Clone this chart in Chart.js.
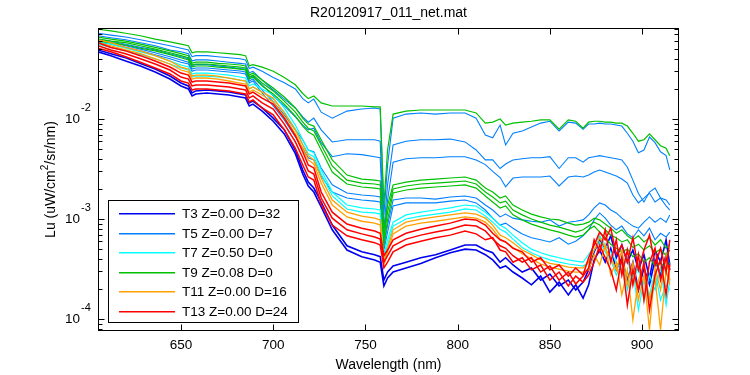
<!DOCTYPE html>
<html>
<head>
<meta charset="utf-8">
<title>R20120917_011_net.mat</title>
<script src="https://cdn.jsdelivr.net/npm/chart.js@4.4.0/dist/chart.umd.min.js"></script>
<style>
    html, body { margin: 0; padding: 0; background: #fff; }
    #spectraChart { display: block; }
</style>
</head>
<body>
<canvas id="spectraChart" width="750" height="375"></canvas>
<script>
// Wavelength grid (nm) shared by every spectrum
const wavelength = [605, 612, 620, 628, 636, 644, 650, 654, 656, 658, 664, 670, 676, 682, 685, 687, 689, 694, 700, 706,
    712, 716, 719, 722, 726, 732, 740, 748, 755, 758, 760, 762, 765, 772, 780, 788, 796, 804, 810, 815,
    819, 823, 826, 830, 835, 840, 845, 850, 855, 860, 864, 868, 871, 874, 877, 880, 883, 886, 889, 892,
    895, 898, 901, 904, 907, 910, 913, 915];

// T3 Z=0.00 D=32
const t3Lu1 = [4.9e-2, 4.5e-2, 4.1e-2, 3.6e-2, 3.16e-2, 2.69e-2, 2.29e-2, 2.14e-2, 1.82e-2, 1.91e-2,
    1.95e-2, 1.91e-2, 1.86e-2, 1.78e-2, 1.74e-2, 1.45e-2, 1.51e-2, 1.29e-2, 1.02e-2, 7.8e-3,
    4.9e-3, 3.09e-3, 2.34e-3, 2.04e-3, 1.48e-3, 8.7e-4, 5.4e-4, 4.7e-4, 4.4e-4, 4.2e-4,
    2.45e-4, 2.95e-4, 3.39e-4, 3.7e-4, 4.1e-4, 4.4e-4, 4.9e-4, 5.5e-4, 5.5e-4, 4.9e-4,
    4.6e-4, 3.7e-4, 4.1e-4, 3.47e-4, 2.95e-4, 3.24e-4, 2.45e-4, 2.82e-4, 2.14e-4, 2.45e-4,
    1.95e-4, 2.34e-4, 3.1e-4, 4.7e-4, 6.2e-4, 5.1e-4, 6.8e-4, 4.1e-4, 5.5e-4, 3.7e-4,
    4.9e-4, 3.1e-4, 4.4e-4, 2.57e-4, 4.9e-4, 3.7e-4, 6.2e-4, 3.47e-4];
const t3Lu2 = [4.7e-2, 4.3e-2, 3.8e-2, 3.39e-2, 2.95e-2, 2.51e-2, 2.14e-2, 2.0e-2, 1.7e-2, 1.78e-2,
    1.82e-2, 1.78e-2, 1.74e-2, 1.66e-2, 1.62e-2, 1.35e-2, 1.41e-2, 1.2e-2, 9.5e-3, 7.1e-3,
    4.5e-3, 2.82e-3, 2.14e-3, 1.86e-3, 1.32e-3, 7.8e-4, 4.9e-4, 4.2e-4, 3.9e-4, 3.7e-4,
    2.14e-4, 2.57e-4, 2.95e-4, 3.24e-4, 3.6e-4, 4.1e-4, 4.6e-4, 5.0e-4, 4.9e-4, 4.4e-4,
    3.9e-4, 3.24e-4, 3.39e-4, 2.95e-4, 2.57e-4, 2.2e-4, 2.69e-4, 1.86e-4, 2.34e-4, 1.74e-4,
    2.2e-4, 1.62e-4, 2.2e-4, 3.9e-4, 4.9e-4, 3.7e-4, 5.1e-4, 3.1e-4, 4.1e-4, 2.45e-4,
    3.7e-4, 1.95e-4, 3.24e-4, 2.2e-4, 3.9e-4, 2.75e-4, 4.4e-4, 3.1e-4];

// T5 Z=0.00 D=7
const t5Lu1 = [7.2e-2, 6.9e-2, 6.6e-2, 6.2e-2, 5.8e-2, 5.4e-2, 5.1e-2, 4.9e-2, 4.2e-2, 4.3e-2,
    4.3e-2, 4.2e-2, 4.1e-2, 4.0e-2, 3.9e-2, 3.2e-2, 3.3e-2, 3.0e-2, 2.6e-2, 2.3e-2,
    2.0e-2, 1.6e-2, 1.45e-2, 1.58e-2, 1.17e-2, 1.02e-2, 1.2e-2, 1.26e-2, 1.29e-2, 1.26e-2,
    1.1e-3, 3.5e-3, 1.02e-2, 1.12e-2, 1.15e-2, 1.12e-2, 1.15e-2, 1.15e-2, 1.02e-2, 6.9e-3,
    6.5e-3, 8.7e-3, 5.5e-3, 7.2e-3, 7.6e-3, 8.3e-3, 9.1e-3, 9.5e-3, 7.6e-3, 9.3e-3,
    9.1e-3, 7.9e-3, 8.9e-3, 8.9e-3, 9.1e-3, 8.9e-3, 8.9e-3, 8.7e-3, 8.5e-3, 7.2e-3,
    6.0e-3, 4.6e-3, 4.9e-3, 6.6e-3, 5.8e-3, 4.7e-3, 4.3e-3, 3.1e-3];
const t5Lu2 = [6.8e-2, 6.5e-2, 6.2e-2, 5.8e-2, 5.4e-2, 4.9e-2, 4.7e-2, 4.5e-2, 3.8e-2, 3.9e-2,
    3.9e-2, 3.8e-2, 3.7e-2, 3.6e-2, 3.55e-2, 2.9e-2, 3.0e-2, 2.45e-2, 1.95e-2, 1.58e-2,
    1.29e-2, 1.05e-2, 9.3e-3, 1.02e-2, 7.8e-3, 5.9e-3, 6.2e-3, 6.2e-3, 6.2e-3, 6.0e-3,
    7.8e-4, 2.2e-3, 5.5e-3, 6.0e-3, 6.2e-3, 6.2e-3, 6.3e-3, 5.9e-3, 4.9e-3, 3.9e-3,
    3.9e-3, 3.2e-3, 3.55e-3, 3.9e-3, 4.0e-3, 4.1e-3, 4.1e-3, 4.2e-3, 3.2e-3, 4.1e-3,
    4.1e-3, 3.7e-3, 4.1e-3, 4.2e-3, 4.3e-3, 4.2e-3, 4.1e-3, 4.0e-3, 3.9e-3, 3.3e-3,
    2.45e-3, 1.8e-3, 1.48e-3, 1.86e-3, 2.04e-3, 1.62e-3, 1.55e-3, 1.38e-3];
const t5Lu3 = [6.3e-2, 6.0e-2, 5.6e-2, 5.2e-2, 4.9e-2, 4.5e-2, 4.2e-2, 4.0e-2, 3.4e-2, 3.5e-2,
    3.5e-2, 3.4e-2, 3.3e-2, 3.2e-2, 3.16e-2, 2.6e-2, 2.7e-2, 2.2e-2, 1.7e-2, 1.35e-2,
    1.05e-2, 8.7e-3, 7.8e-3, 8.1e-3, 5.8e-3, 4.2e-3, 4.5e-3, 4.4e-3, 4.2e-3, 4.1e-3,
    6.2e-4, 1.55e-3, 3.7e-3, 4.0e-3, 4.1e-3, 4.1e-3, 4.2e-3, 4.2e-3, 3.9e-3, 3.5e-3,
    3.0e-3, 2.6e-3, 2.1e-3, 2.57e-3, 2.63e-3, 2.63e-3, 2.63e-3, 2.69e-3, 2.14e-3, 2.63e-3,
    2.69e-3, 2.63e-3, 2.75e-3, 2.95e-3, 3.09e-3, 2.95e-3, 2.82e-3, 2.69e-3, 2.51e-3, 2.29e-3,
    1.74e-3, 1.45e-3, 1.62e-3, 1.82e-3, 1.48e-3, 1.62e-3, 1.35e-3, 1.23e-3];
const t5Lu4 = [6.0e-2, 5.8e-2, 5.4e-2, 5.0e-2, 4.6e-2, 4.2e-2, 3.9e-2, 3.7e-2, 3.16e-2, 3.24e-2,
    3.24e-2, 3.16e-2, 3.09e-2, 3.02e-2, 2.95e-2, 2.4e-2, 2.51e-2, 1.95e-2, 1.48e-2, 1.1e-2,
    7.8e-3, 6.2e-3, 4.9e-3, 4.7e-3, 3.24e-3, 2.2e-3, 1.82e-3, 1.74e-3, 1.7e-3, 1.66e-3,
    5.5e-4, 8.7e-4, 1.55e-3, 1.62e-3, 1.62e-3, 1.58e-3, 1.66e-3, 1.7e-3, 1.62e-3, 1.38e-3,
    1.23e-3, 1.05e-3, 1.12e-3, 1.02e-3, 9.8e-4, 9.5e-4, 9.3e-4, 9.8e-4, 8.5e-4, 9.3e-4,
    9.5e-4, 9.8e-4, 1.1e-3, 1.29e-3, 1.45e-3, 1.38e-3, 1.23e-3, 1.15e-3, 1.02e-3, 9.3e-4,
    8.5e-4, 8.1e-4, 9.3e-4, 1.05e-3, 9.3e-4, 1.02e-3, 9.3e-4, 1.1e-3];
const t5Lu5 = [5.9e-2, 5.6e-2, 5.2e-2, 4.8e-2, 4.4e-2, 4.0e-2, 3.7e-2, 3.55e-2, 3.0e-2, 3.09e-2,
    3.09e-2, 3.02e-2, 2.95e-2, 2.88e-2, 2.82e-2, 2.29e-2, 2.4e-2, 1.82e-2, 1.35e-2, 9.8e-3,
    6.6e-3, 5.1e-3, 4.1e-3, 3.9e-3, 2.69e-3, 1.86e-3, 1.62e-3, 1.55e-3, 1.51e-3, 1.48e-3,
    4.9e-4, 7.4e-4, 1.35e-3, 1.45e-3, 1.45e-3, 1.45e-3, 1.51e-3, 1.55e-3, 1.45e-3, 1.23e-3,
    1.02e-3, 8.7e-4, 9.1e-4, 8.1e-4, 7.1e-4, 6.5e-4, 6.2e-4, 5.9e-4, 6.5e-4, 5.6e-4,
    6.0e-4, 6.8e-4, 7.8e-4, 9.8e-4, 1.15e-3, 1.02e-3, 8.7e-4, 7.8e-4, 8.5e-4, 7.1e-4,
    6.5e-4, 7.8e-4, 6.8e-4, 8.1e-4, 6.2e-4, 7.2e-4, 6.6e-4, 7.4e-4];

// T7 Z=0.50 D=0
const t7Lu1 = [6.0e-2, 5.6e-2, 5.1e-2, 4.7e-2, 4.3e-2, 3.8e-2, 3.47e-2, 3.31e-2, 2.82e-2, 2.88e-2,
    2.88e-2, 2.82e-2, 2.75e-2, 2.63e-2, 2.57e-2, 2.14e-2, 2.24e-2, 2.0e-2, 1.74e-2, 1.29e-2,
    8.7e-3, 6.2e-3, 4.9e-3, 4.6e-3, 3.09e-3, 1.86e-3, 1.38e-3, 1.29e-3, 1.26e-3, 1.23e-3,
    4.4e-4, 6.2e-4, 9.3e-4, 1.1e-3, 1.17e-3, 1.23e-3, 1.29e-3, 1.38e-3, 1.35e-3, 1.17e-3,
    1.02e-3, 8.7e-4, 8.1e-4, 6.9e-4, 5.8e-4, 5.0e-4, 4.6e-4, 4.3e-4, 4.1e-4, 3.9e-4,
    3.8e-4, 3.7e-4, 4.4e-4, 5.5e-4, 6.8e-4, 5.5e-4, 4.7e-4, 3.7e-4, 3.1e-4, 4.1e-4,
    2.2e-4, 3.5e-4, 1.55e-4, 2.75e-4, 1.95e-4, 3.24e-4, 1.38e-4, 2.45e-4];
const t7Lu2 = [5.6e-2, 5.2e-2, 4.8e-2, 4.4e-2, 4.0e-2, 3.55e-2, 3.24e-2, 3.09e-2, 2.63e-2, 2.69e-2,
    2.69e-2, 2.63e-2, 2.57e-2, 2.45e-2, 2.4e-2, 2.0e-2, 2.09e-2, 1.86e-2, 1.58e-2, 1.17e-2,
    7.9e-3, 5.6e-3, 4.5e-3, 4.2e-3, 2.82e-3, 1.7e-3, 1.26e-3, 1.17e-3, 1.15e-3, 1.12e-3,
    4.1e-4, 5.5e-4, 8.5e-4, 1.0e-3, 1.07e-3, 1.12e-3, 1.17e-3, 1.26e-3, 1.23e-3, 1.07e-3,
    9.3e-4, 7.9e-4, 7.4e-4, 6.3e-4, 5.2e-4, 4.6e-4, 4.2e-4, 3.9e-4, 3.7e-4, 3.55e-4,
    3.47e-4, 3.39e-4, 3.7e-4, 4.9e-4, 5.9e-4, 4.7e-4, 3.9e-4, 2.75e-4, 3.7e-4, 1.95e-4,
    3.1e-4, 1.23e-4, 2.45e-4, 1.74e-4, 2.95e-4, 1.55e-4, 2.2e-4, 1.95e-4];

// T9 Z=0.08 D=0
const t9Lu1 = [7.9e-2, 7.6e-2, 7.2e-2, 6.8e-2, 6.3e-2, 5.9e-2, 5.6e-2, 5.4e-2, 4.6e-2, 4.7e-2,
    4.7e-2, 4.6e-2, 4.5e-2, 4.4e-2, 4.3e-2, 3.4e-2, 3.5e-2, 3.3e-2, 3.0e-2, 2.6e-2,
    2.2e-2, 1.8e-2, 1.6e-2, 1.7e-2, 1.45e-2, 1.35e-2, 1.35e-2, 1.35e-2, 1.32e-2, 1.32e-2,
    1.38e-3, 4.9e-3, 1.12e-2, 1.2e-2, 1.23e-2, 1.23e-2, 1.23e-2, 1.23e-2, 1.15e-2, 9.1e-3,
    9.3e-3, 1.0e-2, 8.7e-3, 9.1e-3, 9.3e-3, 9.5e-3, 9.8e-3, 9.8e-3, 7.9e-3, 9.8e-3,
    9.5e-3, 8.1e-3, 9.3e-3, 9.5e-3, 9.5e-3, 9.3e-3, 9.3e-3, 9.1e-3, 9.1e-3, 8.5e-3,
    7.2e-3, 6.0e-3, 6.2e-3, 7.1e-3, 6.2e-3, 5.4e-3, 5.1e-3, 4.3e-3];
const t9Lu2 = [6.6e-2, 6.3e-2, 6.0e-2, 5.6e-2, 5.2e-2, 4.8e-2, 4.5e-2, 4.3e-2, 3.6e-2, 3.7e-2,
    3.7e-2, 3.6e-2, 3.55e-2, 3.47e-2, 3.39e-2, 2.75e-2, 2.88e-2, 2.45e-2, 2.04e-2, 1.66e-2,
    1.29e-2, 1.02e-2, 8.9e-3, 8.5e-3, 6.2e-3, 3.9e-3, 2.75e-3, 2.51e-3, 2.45e-3, 2.4e-3,
    7.8e-4, 1.38e-3, 2.19e-3, 2.34e-3, 2.45e-3, 2.51e-3, 2.57e-3, 2.63e-3, 2.45e-3, 2.04e-3,
    1.86e-3, 1.62e-3, 1.7e-3, 1.38e-3, 1.23e-3, 1.12e-3, 1.05e-3, 1.0e-3, 9.8e-4, 9.1e-4,
    8.7e-4, 8.9e-4, 9.3e-4, 1.02e-3, 9.8e-4, 8.9e-4, 8.1e-4, 7.2e-4, 7.8e-4, 6.8e-4,
    6.2e-4, 6.8e-4, 5.9e-4, 6.5e-4, 5.5e-4, 6.2e-4, 5.1e-4, 5.6e-4];
const t9Lu3 = [6.3e-2, 6.0e-2, 5.8e-2, 5.4e-2, 5.0e-2, 4.6e-2, 4.3e-2, 4.1e-2, 3.47e-2, 3.55e-2,
    3.55e-2, 3.47e-2, 3.39e-2, 3.31e-2, 3.24e-2, 2.63e-2, 2.75e-2, 2.29e-2, 1.91e-2, 1.51e-2,
    1.17e-2, 9.3e-3, 8.1e-3, 7.6e-3, 5.5e-3, 3.39e-3, 2.45e-3, 2.29e-3, 2.24e-3, 2.19e-3,
    6.5e-4, 1.17e-3, 2.0e-3, 2.14e-3, 2.24e-3, 2.29e-3, 2.34e-3, 2.4e-3, 2.24e-3, 1.86e-3,
    1.66e-3, 1.45e-3, 1.51e-3, 1.23e-3, 1.1e-3, 1.0e-3, 9.3e-4, 8.7e-4, 8.3e-4, 7.8e-4,
    7.4e-4, 7.8e-4, 8.5e-4, 9.3e-4, 8.7e-4, 7.8e-4, 6.9e-4, 6.5e-4, 5.9e-4, 6.2e-4,
    5.2e-4, 5.6e-4, 4.9e-4, 5.4e-4, 4.6e-4, 5.0e-4, 4.3e-4, 4.9e-4];
const t9Lu4 = [6.0e-2, 5.8e-2, 5.5e-2, 5.1e-2, 4.8e-2, 4.4e-2, 4.1e-2, 3.9e-2, 3.31e-2, 3.39e-2,
    3.39e-2, 3.31e-2, 3.24e-2, 3.16e-2, 3.09e-2, 2.51e-2, 2.63e-2, 2.14e-2, 1.78e-2, 1.41e-2,
    1.07e-2, 8.5e-3, 7.4e-3, 6.9e-3, 4.9e-3, 2.95e-3, 2.24e-3, 2.09e-3, 2.04e-3, 2.0e-3,
    5.5e-4, 9.8e-4, 1.82e-3, 1.95e-3, 2.04e-3, 2.09e-3, 2.14e-3, 2.19e-3, 2.04e-3, 1.7e-3,
    1.48e-3, 1.29e-3, 1.35e-3, 1.1e-3, 9.8e-4, 8.9e-4, 8.3e-4, 7.8e-4, 7.4e-4, 6.9e-4,
    6.6e-4, 6.9e-4, 7.8e-4, 8.5e-4, 7.4e-4, 6.5e-4, 5.6e-4, 5.1e-4, 4.7e-4, 5.0e-4,
    4.2e-4, 4.5e-4, 3.7e-4, 4.1e-4, 3.4e-4, 3.7e-4, 3.1e-4, 3.7e-4];

// T11 Z=0.00 D=16
const t11Lu1 = [6.2e-2, 5.8e-2, 5.2e-2, 4.8e-2, 4.3e-2, 3.8e-2, 3.31e-2, 3.16e-2, 2.69e-2, 2.75e-2,
    2.75e-2, 2.69e-2, 2.57e-2, 2.45e-2, 2.4e-2, 2.0e-2, 2.09e-2, 1.86e-2, 1.62e-2, 1.15e-2,
    7.8e-3, 5.5e-3, 4.3e-3, 3.9e-3, 2.57e-3, 1.55e-3, 1.17e-3, 1.07e-3, 1.02e-3, 9.8e-4,
    3.7e-4, 5.1e-4, 7.8e-4, 9.3e-4, 1.0e-3, 1.05e-3, 1.1e-3, 1.15e-3, 1.12e-3, 1.02e-3,
    8.7e-4, 6.9e-4, 6.5e-4, 5.8e-4, 4.9e-4, 4.4e-4, 3.9e-4, 3.6e-4, 3.47e-4, 3.3e-4,
    3.24e-4, 3.24e-4, 3.7e-4, 4.9e-4, 6.5e-4, 5.1e-4, 4.1e-4, 3.1e-4, 4.9e-4, 2.2e-4,
    3.7e-4, 1.55e-4, 2.75e-4, 7.8e-5, 3.24e-4, 1.95e-4, 4.4e-4, 2.45e-4];
const t11Lu2 = [5.8e-2, 5.4e-2, 4.9e-2, 4.5e-2, 4.0e-2, 3.55e-2, 3.09e-2, 2.95e-2, 2.51e-2, 2.57e-2,
    2.57e-2, 2.51e-2, 2.4e-2, 2.29e-2, 2.24e-2, 1.86e-2, 1.95e-2, 1.74e-2, 1.48e-2, 1.05e-2,
    7.1e-3, 5.0e-3, 3.9e-3, 3.55e-3, 2.29e-3, 1.38e-3, 1.05e-3, 9.5e-4, 9.1e-4, 8.7e-4,
    3.47e-4, 4.7e-4, 7.1e-4, 8.5e-4, 9.1e-4, 9.5e-4, 1.0e-3, 1.05e-3, 1.02e-3, 9.3e-4,
    7.9e-4, 6.3e-4, 5.9e-4, 5.2e-4, 4.5e-4, 4.0e-4, 3.55e-4, 3.3e-4, 3.16e-4, 3.02e-4,
    2.95e-4, 2.95e-4, 3.1e-4, 4.4e-4, 3.47e-4, 5.5e-4, 2.75e-4, 3.7e-4, 1.74e-4, 3.1e-4,
    9.8e-5, 2.45e-4, 3.47e-4, 1.55e-4, 2.57e-4, 7.8e-5, 3.1e-4, 2.2e-4];

// T13 Z=0.00 D=24
const t13Lu1 = [5.8e-2, 5.2e-2, 4.8e-2, 4.3e-2, 3.8e-2, 3.31e-2, 2.88e-2, 2.75e-2, 2.34e-2, 2.4e-2,
    2.4e-2, 2.34e-2, 2.29e-2, 2.19e-2, 2.14e-2, 1.78e-2, 1.86e-2, 1.62e-2, 1.41e-2, 1.02e-2,
    6.8e-3, 4.7e-3, 3.47e-3, 3.24e-3, 1.86e-3, 1.17e-3, 8.9e-4, 8.1e-4, 7.6e-4, 7.2e-4,
    4.3e-4, 4.9e-4, 6.2e-4, 7.2e-4, 7.9e-4, 8.5e-4, 9.1e-4, 1.0e-3, 9.8e-4, 8.7e-4,
    7.2e-4, 6.2e-4, 5.9e-4, 5.1e-4, 4.7e-4, 3.7e-4, 4.1e-4, 3.1e-4, 3.47e-4, 2.69e-4,
    3.24e-4, 2.75e-4, 4.1e-4, 5.5e-4, 7.4e-4, 6.2e-4, 8.1e-4, 4.4e-4, 5.5e-4, 3.7e-4,
    6.5e-4, 3.1e-4, 4.9e-4, 6.9e-4, 3.47e-4, 5.1e-4, 2.95e-4, 6.2e-4];
const t13Lu2 = [5.4e-2, 4.9e-2, 4.5e-2, 4.0e-2, 3.55e-2, 3.09e-2, 2.63e-2, 2.51e-2, 2.14e-2, 2.19e-2,
    2.19e-2, 2.14e-2, 2.09e-2, 2.0e-2, 1.95e-2, 1.62e-2, 1.7e-2, 1.45e-2, 1.26e-2, 8.9e-3,
    5.9e-3, 4.1e-3, 3.02e-3, 2.82e-3, 1.62e-3, 1.02e-3, 7.8e-4, 7.1e-4, 6.6e-4, 6.3e-4,
    3.7e-4, 4.3e-4, 5.4e-4, 6.3e-4, 6.9e-4, 7.4e-4, 7.9e-4, 8.7e-4, 8.5e-4, 7.6e-4,
    6.3e-4, 5.4e-4, 5.1e-4, 4.3e-4, 3.7e-4, 4.1e-4, 2.95e-4, 3.39e-4, 2.45e-4, 2.95e-4,
    2.24e-4, 2.69e-4, 3.24e-4, 6.2e-4, 4.7e-4, 7.8e-4, 3.7e-4, 6.2e-4, 2.75e-4, 4.9e-4,
    2.2e-4, 4.4e-4, 1.55e-4, 3.7e-4, 5.1e-4, 2.45e-4, 4.1e-4, 3.1e-4];
const t13Lu3 = [5.1e-2, 4.7e-2, 4.2e-2, 3.7e-2, 3.24e-2, 2.82e-2, 2.4e-2, 2.29e-2, 1.95e-2, 2.0e-2,
    2.0e-2, 1.95e-2, 1.91e-2, 1.82e-2, 1.78e-2, 1.48e-2, 1.55e-2, 1.29e-2, 1.1e-2, 7.8e-3,
    5.1e-3, 3.47e-3, 2.63e-3, 2.45e-3, 1.41e-3, 8.7e-4, 6.8e-4, 6.2e-4, 5.8e-4, 5.5e-4,
    3.24e-4, 3.7e-4, 4.7e-4, 5.5e-4, 6.0e-4, 6.5e-4, 6.9e-4, 7.6e-4, 7.1e-4, 6.2e-4,
    6.5e-4, 4.9e-4, 4.7e-4, 3.7e-4, 4.1e-4, 3.1e-4, 3.47e-4, 2.45e-4, 2.95e-4, 2.14e-4,
    2.69e-4, 2.34e-4, 2.75e-4, 3.7e-4, 5.5e-4, 4.1e-4, 3.1e-4, 1.95e-4, 4.1e-4, 1.38e-4,
    3.1e-4, 1.95e-4, 3.7e-4, 1.23e-4, 2.75e-4, 3.9e-4, 1.74e-4, 3.47e-4];

// Axis ticks and labels
const xTicks = [650, 700, 750, 800, 850, 900];
const yDecades = [1e-4, 1e-3, 1e-2];
const yDecadeExponents = ['-4', '-3', '-2'];
const legendLabels = ['T3 Z=0.00 D=32', 'T5 Z=0.00 D=7', 'T7 Z=0.50 D=0',
    'T9 Z=0.08 D=0', 'T11 Z=0.00 D=16', 'T13 Z=0.00 D=24'];
const plotTitle = 'R20120917_011_net.mat';
const xAxisTitle = 'Wavelength (nm)';

const groupSeries = [
    [t3Lu1, t3Lu2],
    [t5Lu1, t5Lu2, t5Lu3, t5Lu4, t5Lu5],
    [t7Lu1, t7Lu2],
    [t9Lu1, t9Lu2, t9Lu3, t9Lu4],
    [t11Lu1, t11Lu2],
    [t13Lu1, t13Lu2, t13Lu3]
];
const groupColors = ['#0000f0', '#0080ff', '#00ffff', '#00c000', '#ffa000', '#ff0000'];
const groupWidths = [1.6, 1.1, 1.2, 1.2, 1.3, 1.5];

const FONT = '"Liberation Sans", Arial, Helvetica, sans-serif';

class SpectraChart {
    constructor() {
        this.chart = null;
        this.initialize();
    }

    initialize() {
        const ctx = document.getElementById('spectraChart');
        if (!ctx) return;

        this.chart = new Chart(ctx, {
            type: 'line',
            data: { datasets: this.buildDatasets() },
            options: {
                responsive: false,
                animation: false,
                events: [],
                layout: { padding: { left: 98, right: 71, top: 28, bottom: 44 } },
                scales: {
                    x: { type: 'linear', display: false, min: 605, max: 920 },
                    y: { type: 'logarithmic', display: false, min: 7.59e-5, max: 8.13e-2 }
                },
                plugins: {
                    legend: { display: false },
                    tooltip: { enabled: false },
                    title: { display: false }
                }
            },
            plugins: [this.axesPlugin()]
        });
    }

    buildDatasets() {
        const sets = [];
        groupSeries.forEach((seriesList, g) => {
            seriesList.forEach(series => {
                sets.push({
                    label: legendLabels[g],
                    data: wavelength.map((w, i) => ({ x: w, y: series[i] })),
                    borderColor: groupColors[g],
                    borderWidth: groupWidths[g],
                    pointRadius: 0,
                    tension: 0,
                    fill: false
                });
            });
        });
        // MATLAB draws later series on top; Chart.js draws index 0 last
        return sets.reverse();
    }

    axesPlugin() {
        return {
            id: 'matlabAxes',
            beforeDraw(chart) {
                const c = chart.ctx;
                c.save();
                c.fillStyle = '#fff';
                c.fillRect(0, 0, chart.width, chart.height);
                c.restore();
            },
            afterDatasetsDraw(chart) {
                const c = chart.ctx;
                const a = chart.chartArea;
                const xs = chart.scales.x;
                const ys = chart.scales.y;
                const L = Math.round(a.left) + 0.5, R = Math.round(a.right) - 0.5;
                const T = Math.round(a.top) + 0.5, B = Math.round(a.bottom) - 0.5;

                c.save();
                c.strokeStyle = '#000';
                c.lineWidth = 1;
                c.strokeRect(L, T, R - L, B - T);

                // x ticks, bottom and top, pointing inward
                c.beginPath();
                xTicks.forEach(v => {
                    const px = Math.round(xs.getPixelForValue(v)) + 0.5;
                    c.moveTo(px, B); c.lineTo(px, B - 6);
                    c.moveTo(px, T); c.lineTo(px, T + 6);
                });
                // y ticks (log, with minor ticks)
                for (let e = -5; e <= -1; e++) {
                    for (let k = 1; k <= 9; k++) {
                        const v = k * Math.pow(10, e);
                        if (v < ys.min || v > ys.max) continue;
                        const py = Math.round(ys.getPixelForValue(v)) + 0.5;
                        const len = k === 1 ? 6 : 4;
                        c.moveTo(L, py); c.lineTo(L + len, py);
                        c.moveTo(R, py); c.lineTo(R - len, py);
                    }
                }
                c.stroke();

                // tick labels
                c.fillStyle = '#000';
                c.font = '13.5px ' + FONT;
                c.textAlign = 'center';
                c.textBaseline = 'middle';
                xTicks.forEach(v => c.fillText(String(v), xs.getPixelForValue(v), 345));

                yDecades.forEach((v, i) => {
                    const py = ys.getPixelForValue(v);
                    c.font = '13.5px ' + FONT;
                    c.textAlign = 'right';
                    c.fillText('10', 80, py);
                    c.font = '11px ' + FONT;
                    c.textAlign = 'left';
                    c.fillText(yDecadeExponents[i], 81, py - 11);
                });

                // titles
                const cx = (a.left + a.right) / 2;
                c.font = '14px ' + FONT;
                c.textAlign = 'center';
                c.fillText(plotTitle, cx, 13);
                c.fillText(xAxisTitle, cx, 365);

                // rotated y label with superscript 2
                const parts = ['Lu (uW/cm', '2', '/sr/nm)'];
                c.save();
                c.translate(51, (a.top + a.bottom) / 2);
                c.rotate(-Math.PI / 2);
                c.font = '14px ' + FONT;
                const w0 = c.measureText(parts[0]).width;
                const w2 = c.measureText(parts[2]).width;
                c.font = '10px ' + FONT;
                const w1 = c.measureText(parts[1]).width;
                let tx = -(w0 + w1 + w2) / 2;
                c.textAlign = 'left';
                c.font = '14px ' + FONT;
                c.fillText(parts[0], tx, 0);
                tx += w0;
                c.font = '10px ' + FONT;
                c.fillText(parts[1], tx, -6);
                tx += w1;
                c.font = '14px ' + FONT;
                c.fillText(parts[2], tx, 0);
                c.restore();

                // legend box with one sample line per group
                const bx = 108.5, by = 200.5, bw = 190, bh = 122;
                c.fillStyle = '#fff';
                c.fillRect(bx, by, bw, bh);
                c.strokeStyle = '#000';
                c.strokeRect(bx, by, bw, bh);
                c.font = '13.5px ' + FONT;
                c.textAlign = 'left';
                legendLabels.forEach((label, i) => {
                    const ry = Math.round(213 + i * 19.5);
                    c.fillStyle = groupColors[i];
                    c.fillRect(119, ry, 56, 1.5);
                    c.fillStyle = '#000';
                    c.fillText(label, 182, ry + 1);
                });
                c.restore();
            }
        };
    }
}

document.addEventListener('DOMContentLoaded', () => {
    const spectra = new SpectraChart();
});
</script>
</body>
</html>
